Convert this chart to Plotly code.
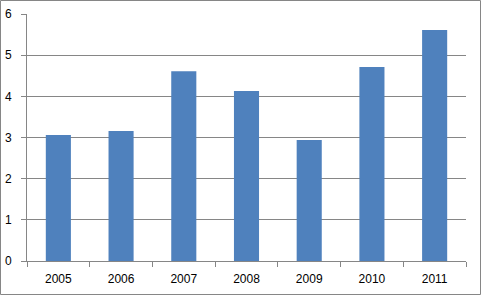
import plotly.graph_objects as go

years = ["2005", "2006", "2007", "2008", "2009", "2010", "2011"]
values = [3.06, 3.16, 4.61, 4.13, 2.94, 4.71, 5.61]
y_ticks = [0, 1, 2, 3, 4, 5, 6]

W, H = 482, 296
ML, MR, MT, MB = 27, 16, 14, 35
PW, PH = W - ML - MR, H - MT - MB

def px_to_paper_x(px):
    return (px - ML) / PW

def px_to_paper_y(py):
    return (H - MB - py) / PH

grid = "#868686"

fig = go.Figure(go.Bar(x=years, y=values, marker=dict(color="#4F81BD", line=dict(width=0))))

fig.update_layout(
    width=W, height=H,
    margin=dict(l=ML, r=MR, t=MT, b=MB, autoexpand=False),
    paper_bgcolor="white", plot_bgcolor="white",
    bargap=0.6,
    showlegend=False,
    font=dict(family="Liberation Sans, Arial, sans-serif", size=12, color="#000000"),
    xaxis=dict(
        type="category", showline=True, linecolor=grid, linewidth=1,
        ticks="outside", tickson="boundaries", ticklen=5, tickcolor=grid, tickwidth=1,
        showgrid=False, ticklabelstandoff=7, automargin=False,
    ),
    yaxis=dict(
        range=[0, 6], tickvals=y_ticks, ticktext=[str(v) for v in y_ticks],
        showline=True, linecolor=grid, linewidth=1,
        ticks="outside", ticklen=5, tickcolor=grid, tickwidth=1,
        showgrid=True, gridcolor=grid, gridwidth=1, zeroline=False,
        ticklabelstandoff=7, automargin=False,
    ),
    shapes=[dict(
        type="rect", xref="paper", yref="paper",
        x0=px_to_paper_x(0.5), x1=px_to_paper_x(480.5),
        y0=px_to_paper_y(294.5), y1=px_to_paper_y(0.5),
        line=dict(color=grid, width=1), fillcolor="rgba(0,0,0,0)", layer="above",
    )],
)

fig.write_html("out.html")
